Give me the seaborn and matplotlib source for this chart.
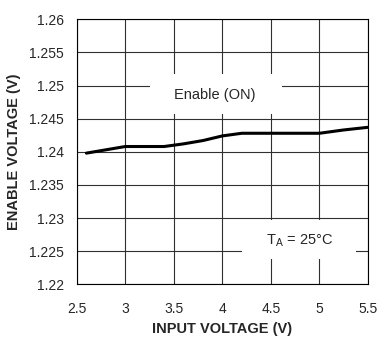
import pandas as pd
import matplotlib.pyplot as plt
import seaborn as sns
from matplotlib.patches import Rectangle

# values
input_v = [2.6, 3.0, 3.4, 3.6, 3.8, 4.0, 4.2, 4.6, 5.0, 5.25, 5.5]
enable_v = [1.2398, 1.2408, 1.2408, 1.2412, 1.2417, 1.2424, 1.2428, 1.2428, 1.2428, 1.2433, 1.2437]

x_ticks = [2.5, 3, 3.5, 4, 4.5, 5, 5.5]
y_ticks = [1.22, 1.225, 1.23, 1.235, 1.24, 1.245, 1.25, 1.255, 1.26]

df = pd.DataFrame({"Input": input_v, "Enable": enable_v})

sns.set_style("white")
plt.rcParams['font.family'] = ['Liberation Sans', 'DejaVu Sans']

fig = plt.figure(figsize=(3.79, 3.41), dpi=100)
ax = fig.add_axes([0.2024, 0.1663, 0.7686, 0.777])

sns.lineplot(data=df, x="Input", y="Enable", color="black", linewidth=2.2, ax=ax, zorder=3)

ax.set_xlim(2.5, 5.5)
ax.set_ylim(1.22, 1.26)
ax.set_xticks(x_ticks)
ax.set_xticklabels([f"{v:g}" for v in x_ticks])
ax.set_yticks(y_ticks)
ax.set_yticklabels([f"{v:g}" for v in y_ticks])
ax.tick_params(axis="both", labelsize=10, length=0)
ax.tick_params(axis="x", pad=13)
ax.tick_params(axis="y", pad=9)
ax.grid(True, color="#303030", linewidth=0.8)
ax.set_axisbelow(True)
for s in ax.spines.values():
    s.set_color("black")
    s.set_linewidth(0.8)

ax.set_xlabel("INPUT VOLTAGE (V)", fontsize=10.5, fontweight="bold", labelpad=4)
ax.set_ylabel("ENABLE VOLTAGE (V)", fontsize=10.5, fontweight="bold", labelpad=6)

# white boxes that hide the grid behind the labels
ax.add_patch(Rectangle((3.25, 1.2457), 1.367, 0.006, facecolor="white", edgecolor="none", zorder=2))
ax.add_patch(Rectangle((4.206, 1.2238), 1.172, 0.0059, facecolor="white", edgecolor="none", zorder=2))

ax.text(3.92, 1.2486, "Enable (ON)", ha="center", va="center", fontsize=10.5, zorder=4)
ax.text(4.79, 1.2266, "T$_\\mathregular{A}$ = 25°C", ha="center", va="center", fontsize=10.5, zorder=4)

plt.savefig("out.png", dpi=100)
